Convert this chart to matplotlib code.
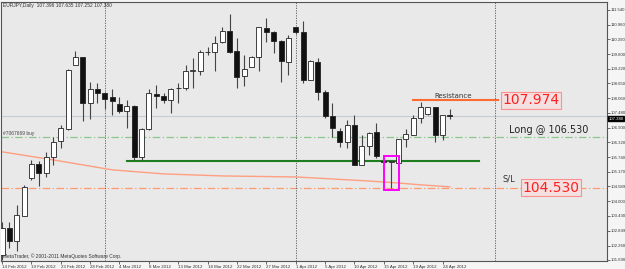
import matplotlib.pyplot as plt
from matplotlib.patches import Rectangle

# EURJPY daily candles (one per bar, 14 Feb .. 25 Apr 2012)
opens = [101.89, 102.95, 102.44, 103.42, 104.92, 105.47, 105.12, 105.75, 106.38, 106.85,
         109.37, 109.69, 107.88, 108.43, 108.27, 108.11, 107.84, 107.56, 107.76, 105.75,
         106.85, 108.23, 108.15, 107.99, 108.47, 108.47, 109.14, 109.14, 109.89, 109.89,
         110.28, 110.71, 109.93, 108.94, 109.29, 109.69, 110.83, 110.67, 110.32, 109.49,
         110.87, 110.67, 108.78, 109.49, 108.31, 107.36, 106.77, 106.34, 107.01, 105.43,
         106.18, 106.73, 105.57, 105.55, 105.51, 106.46, 106.62, 107.29, 107.44, 107.72,
         106.62, 107.396]
highs = [103.19, 103.19, 103.86, 104.65, 105.63, 105.59, 105.95, 106.54, 107.01, 109.22,
         109.93, 109.69, 108.70, 108.66, 108.31, 108.43, 108.11, 107.99, 107.80, 106.89,
         108.43, 108.59, 108.27, 108.47, 108.66, 109.37, 109.65, 109.96, 110.08, 110.52,
         110.87, 111.38, 110.44, 109.77, 109.73, 110.87, 111.23, 110.71, 110.36, 110.56,
         110.87, 111.11, 109.57, 109.65, 108.39, 107.88, 106.89, 107.21, 107.40, 106.62,
         106.73, 107.09, 105.63, 105.59, 106.46, 106.85, 107.40, 107.92, 107.72, 107.72,
         107.40, 107.635]
lows = [101.69, 102.16, 102.05, 103.42, 104.84, 104.60, 104.96, 105.43, 106.10, 106.81,
        109.37, 107.17, 107.25, 107.88, 107.64, 107.40, 107.48, 106.89, 105.63, 105.63,
        106.81, 107.68, 107.88, 107.48, 107.88, 108.39, 108.47, 108.98, 109.77, 109.14,
        110.24, 109.85, 108.47, 108.55, 109.29, 109.14, 110.28, 109.85, 108.70, 108.98,
        110.59, 108.66, 108.78, 107.99, 107.29, 106.54, 106.14, 106.10, 105.43, 105.43,
        105.83, 105.71, 105.51, 104.51, 105.51, 106.14, 106.62, 107.09, 107.40, 106.34,
        106.42, 107.252]
closes = [102.95, 102.44, 103.46, 104.56, 105.47, 105.12, 105.75, 106.34, 106.89, 109.18,
          109.69, 107.88, 108.43, 108.27, 108.03, 107.96, 107.56, 107.76, 105.75, 106.85,
          108.27, 108.15, 107.99, 108.43, 108.45, 109.14, 109.16, 109.89, 109.87, 110.24,
          110.71, 109.89, 108.90, 109.22, 109.69, 110.87, 110.67, 110.32, 109.53, 110.44,
          110.67, 108.78, 109.53, 108.31, 107.36, 106.89, 106.34, 107.01, 105.43, 106.18,
          106.69, 105.79, 105.55, 105.57, 106.46, 106.65, 107.29, 107.72, 107.72, 106.62,
          107.40, 107.380]

# moving average line (sampled at these bars)
ma_bars = [0, 7, 15, 22, 30, 40, 45, 50, 54, 57, 61]
ma_vals = [105.95, 105.63, 105.24, 105.08, 105.00, 104.96, 104.88, 104.80, 104.72, 104.65, 104.57]

date_labels = ['14 Feb 2012', '19 Feb 2012', '23 Feb 2012', '28 Feb 2012', '4 Mar 2012',
               '8 Mar 2012', '13 Mar 2012', '18 Mar 2012', '22 Mar 2012', '27 Mar 2012',
               '1 Apr 2012', '5 Apr 2012', '10 Apr 2012', '15 Apr 2012', '19 Apr 2012',
               '24 Apr 2012']
price_ticks = [101.690, 102.260, 102.849, 103.430, 104.000, 104.589, 105.170, 105.740,
               106.320, 106.900, 107.480, 108.060, 108.650, 109.220, 109.800, 110.390,
               110.960, 111.540]

bid = 107.380
long_entry = 106.530
stop_loss = 104.530
support = 105.59
resistance = 107.974
month_seps = [14, 40, 67.2]

small = dict(family='Liberation Sans', fontsize=3.1)
label = dict(family='Liberation Sans', fontsize=3.5)

fig = plt.figure(figsize=(6.25, 2.69), dpi=100, facecolor='#f5f5f5')
ax = fig.add_axes([1 / 625, 8 / 269, 606 / 625, 259 / 269])
ax.set_facecolor('#e9e9e9')
ax.set_xlim(-0.14, 82.4)
ax.set_ylim(101.65, 111.85)

# horizontal levels
ax.axhline(bid, color='#c5ccd4', lw=0.8, zorder=1)
ax.axhline(long_entry, color='#8cc88c', lw=0.9, ls=(0, (6, 2, 1, 2)), zorder=1)
ax.axhline(stop_loss, color='#ff9a70', lw=0.9, ls=(0, (6, 2, 1, 2)), zorder=1)
for m in month_seps:
    ax.axvline(m, color='#555555', lw=0.6, ls=(0, (1.5, 1.5)), zorder=1)

ax.plot(ma_bars, ma_vals, color='#ff9f80', lw=1.0, zorder=2)
ax.plot([17, 65], [support, support], color='#1e7d1e', lw=1.5, zorder=2)
ax.plot([56, 67.6], [resistance, resistance], color='#ff6a33', lw=1.5, zorder=2)

# candles
for i in range(len(opens)):
    o, h, l, c = opens[i], highs[i], lows[i], closes[i]
    ax.vlines(i, l, h, color='#444444', lw=0.8, zorder=3)
    bull = c >= o
    lo = min(o, c)
    ht = max(abs(c - o), 0.03)
    ax.add_patch(Rectangle((i - 0.34, lo), 0.68, ht,
                           facecolor='white' if bull else '#111111',
                           edgecolor='#222222', lw=0.6, zorder=4))

# magenta box round the pin bar
ax.add_patch(Rectangle((52.0, 104.45), 2.1, 1.34, fill=False,
                       edgecolor='#ff00ff', lw=1.4, zorder=5))

# annotations
ax.text(61.5, resistance + 0.07, 'Resistance', fontsize=5, color='#333333',
        ha='center', va='bottom')
ax.text(68.1, resistance, '107.974', fontsize=10, color='#ff2020', va='center',
        bbox=dict(boxstyle='square,pad=0.1', fc='#f4e0e0', ec='#ff9090', lw=0.8))
ax.text(69.0, long_entry + 0.07, 'Long @ 106.530', fontsize=7, color='#222222',
        va='bottom')
ax.text(68.2, stop_loss + 0.18, 'S/L', fontsize=6, color='#333333', va='bottom')
ax.text(70.9, stop_loss, '104.530', fontsize=10, color='#ff2020', va='center',
        bbox=dict(boxstyle='square,pad=0.1', fc='#f4e0e0', ec='#ff9090', lw=0.8))
ax.text(0.2, long_entry + 0.05, '#7067669 buy', color='#444444', va='bottom', **label)
ax.text(0.2, 111.72, 'EURJPY,Daily  107.396 107.635 107.252 107.380',
        color='#333333', va='center', **label)
ax.text(0.2, 101.72, 'MetaTrader, \u00a9 2001-2011 MetaQuotes Software Corp.',
        color='#333333', va='bottom', **label)

# axes
ax.yaxis.tick_right()
ax.set_yticks(price_ticks)
ax.set_yticklabels(['%.3f' % v for v in price_ticks], **small)
ax.set_xticks(range(0, 4 * len(date_labels), 4))
ax.set_xticklabels(date_labels, ha='left', family='Liberation Sans', fontsize=3.2)
ax.tick_params(axis='both', colors='#333333', length=2, width=0.5, pad=0.8)
ax.text(1.002, (bid - 101.65) / (111.85 - 101.65) - 0.012, '%.3f' % bid,
        transform=ax.transAxes, color='white', va='center', ha='left',
        bbox=dict(boxstyle='square,pad=0.12', fc='black', ec='black'), **small)
for s in ax.spines.values():
    s.set_color('#555555')
    s.set_linewidth(0.8)

fig.savefig('out.png', dpi=100, facecolor=fig.get_facecolor())
